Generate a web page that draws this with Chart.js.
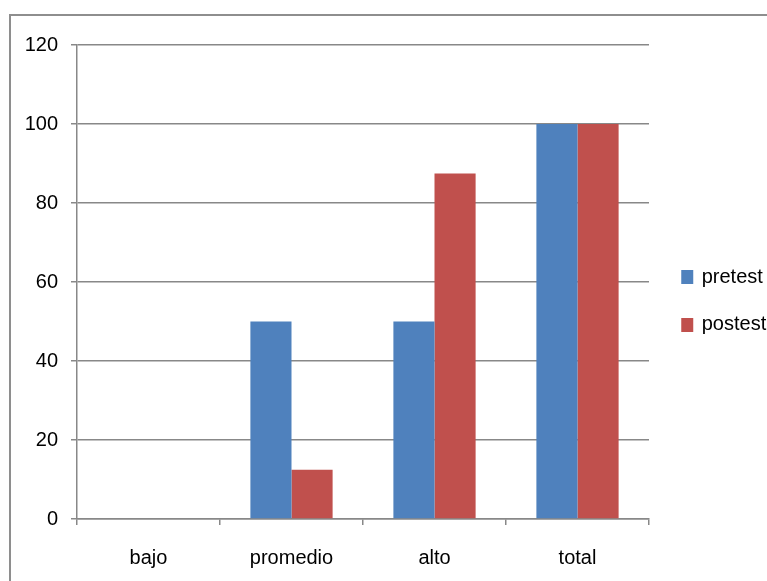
<!DOCTYPE html>
<html>
<head>
<meta charset="utf-8">
<script src="https://cdn.jsdelivr.net/npm/chart.js@4/dist/chart.umd.min.js"></script>
<style>
  html, body { margin: 0; padding: 0; background: #fff; overflow: hidden; }
  #wrap { position: relative; width: 767px; height: 581px; }
  #frame { position: absolute; left: 9px; top: 14px; width: 900px; height: 900px;
           border-top: 2px solid #8e8e8e; border-left: 2px solid #8e8e8e; }
  canvas { position: absolute; left: 0; top: 0; }
</style>
</head>
<body>
<div id="wrap">
  <div id="frame"></div>
  <canvas id="c" width="767" height="581"></canvas>
</div>
<script>
const categories = ['bajo', 'promedio', 'alto', 'total'];
const pretest = [0, 50, 50, 100];
const postest = [0, 12.5, 87.5, 100];
const seriesNames = ['pretest', 'postest'];

const FONT = "'Liberation Sans', Arial, sans-serif";
const GRID = '#888888';
const PLOT_RIGHT = 649;   // right edge of the plotting area

// small square swatch used as the legend marker
function swatch(color) {
  const cv = document.createElement('canvas');
  cv.width = 24; cv.height = 14;
  const g = cv.getContext('2d');
  g.fillStyle = color;
  g.fillRect(9, 0, 12, 14);
  return cv;
}

const chart = new Chart(document.getElementById('c'), {
  type: 'bar',
  data: {
    labels: categories,
    datasets: [
      { label: seriesNames[0], data: pretest, backgroundColor: '#4F81BD' },
      { label: seriesNames[1], data: postest, backgroundColor: '#C0504D' }
    ]
  },
  options: {
    responsive: false,
    animation: false,
    devicePixelRatio: 1,
    categoryPercentage: 0.575,
    barPercentage: 1,
    layout: { padding: { top: 45, right: 0, left: 0, bottom: 0 } },
    plugins: {
      tooltip: { enabled: false },
      legend: {
        position: 'right',
        fullSize: false,
        title: { display: true, text: '', padding: { top: 23.3, bottom: 0 } },
        labels: {
          font: { family: FONT, size: 20 },
          color: '#000',
          usePointStyle: true,
          pointStyleWidth: 15,
          padding: 27.7,
          generateLabels(chart) {
            const items = Chart.defaults.plugins.legend.labels.generateLabels(chart);
            items.forEach(it => { it.pointStyle = swatch(it.fillStyle); });
            return items;
          }
        }
      }
    },
    scales: {
      x: {
        afterFit(s) { s.height = 62; },
        grid: { drawOnChartArea: false, offset: true, tickLength: 6, color: GRID, lineWidth: 1.5 },
        border: { color: GRID, width: 1.5 },
        ticks: { font: { family: FONT, size: 20 }, color: '#000', padding: 21 }
      },
      y: {
        min: 0, max: 120,
        afterFit(s) { s.width = 77; },
        ticks: { stepSize: 20, font: { family: FONT, size: 20 }, color: '#000', padding: 13 },
        grid: { color: GRID, lineWidth: 1.5, tickLength: 6 },
        border: { color: GRID, width: 1.5 }
      }
    }
  }
});

// leave exactly enough room on the right for the legend column
chart.options.layout.padding.right = chart.width - PLOT_RIGHT - chart.legend.width;
chart.update();
</script>
</body>
</html>
